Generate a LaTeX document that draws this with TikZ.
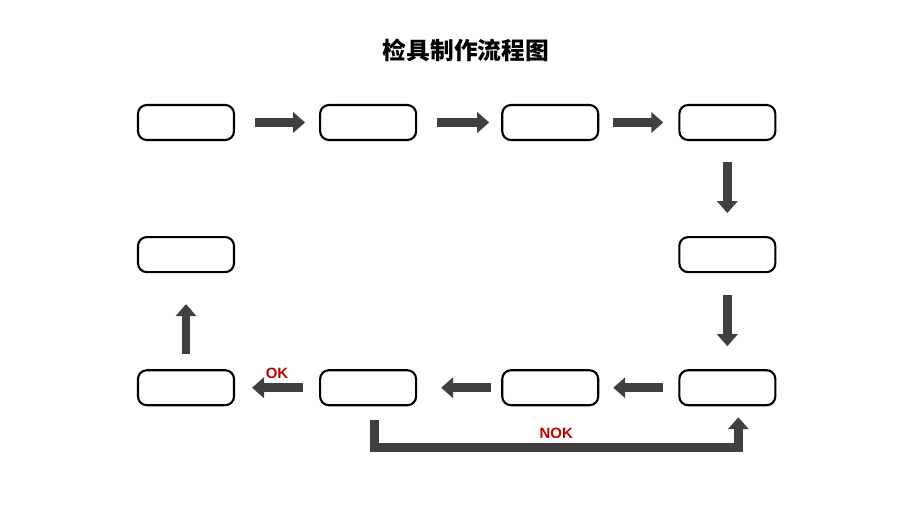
\documentclass[tikz,border=0pt]{standalone}
\usepackage{fontspec}
\newfontfamily\cjk{Noto Sans CJK SC}
\newfontfamily\labelfont{Liberation Sans}
\usepackage{tikz}
\usetikzlibrary{arrows.meta,calc,positioning}

\definecolor{flowgray}{RGB}{64,64,64}
\definecolor{nokred}{RGB}{192,0,0}

\begin{document}
\begin{tikzpicture}[
    stepbox/.style={draw, line width=1.2pt, rounded corners=5pt, fill=white,
                    minimum width=1.92cm, minimum height=0.70cm},
    flow/.style={draw=flowgray, line width=5pt,
                 -{Triangle[length=6.8pt, width=11.5pt]}},
    tag/.style={text=nokred, font=\labelfont\bfseries\fontsize{8.5}{9}\selectfont}
]
\useasboundingbox (0,0) rectangle (18.4,-10.34);

% title
\node[font=\cjk\bfseries\fontsize{13.5}{16}\selectfont] (title) at (9.32,-1.0) {检具制作流程图};

% 1) top row
\node[stepbox] (step1) at (3.72,-2.45) {};
\node[stepbox, right=1.68cm of step1] (step2) {};
\node[stepbox, right=1.68cm of step2] (step3) {};
\node[stepbox, right=1.58cm of step3] (step4) {};

% 2) right column
\node[stepbox, below=1.9cm of step4] (step5) {};
\node[stepbox, below=1.92cm of step5] (step6) {};

% 3) bottom row
\node[stepbox, left=1.58cm of step6] (step7) {};
\node[stepbox, left=1.68cm of step7] (step8) {};
\node[stepbox, left=1.68cm of step8] (step9) {};

% 4) left column
\node[stepbox, above=1.92cm of step9] (step10) {};

% arrows
\draw[flow, shorten <=0.40cm, shorten >=0.28cm] (step1) -- (step2);
\draw[flow, shorten <=0.40cm, shorten >=0.24cm] (step2) -- (step3);
\draw[flow, shorten <=0.28cm, shorten >=0.30cm] (step3) -- (step4);
\draw[flow, shorten <=0.42cm, shorten >=0.46cm] (step4) -- (step5);
\draw[flow, shorten <=0.44cm, shorten >=0.46cm] (step5) -- (step6);
\draw[flow, shorten <=0.30cm, shorten >=0.28cm] (step6) -- (step7);
\draw[flow, shorten <=0.20cm, shorten >=0.48cm] (step7) -- (step8);
\draw[flow, shorten <=0.32cm, shorten >=0.34cm] (step8) -- (step9)
    node[tag, midway, above=-0.02cm] (ok) {OK};
\draw[flow, shorten <=0.30cm, shorten >=0.62cm] (step9) -- (step10);

% NOK loop back
\coordinate (nokstart) at ($(step8.south)+(0.12,-0.28)$);
\coordinate (nokturn) at ($(step6.south)+(0.22,-0.83)$);
\coordinate (nokend) at ($(step6.south)+(0.22,-0.22)$);
\draw[flow] (nokstart) -- (nokstart |- nokturn)
    -- node[tag, above=-0.02cm] (nok) {NOK} (nokturn) -- (nokend);
\end{tikzpicture}
\end{document}
